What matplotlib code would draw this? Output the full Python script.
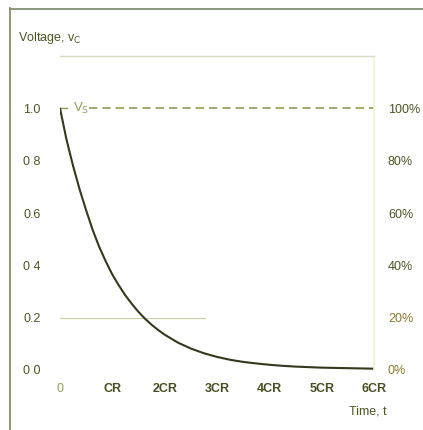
import matplotlib
matplotlib.use("Agg")
import matplotlib.pyplot as plt
from matplotlib.lines import Line2D

plt.rcParams['font.family'] = ['Liberation Sans', 'DejaVu Sans']

# Capacitor discharge: voltage v_C against time in multiples of CR
t_cr = [0, 0.125, 0.25, 0.375, 0.5, 0.625, 0.75, 0.875, 1.0, 1.125, 1.25,
        1.375, 1.5, 1.625, 1.75, 1.875, 2.0, 2.25, 2.5, 2.75, 3.0, 3.25, 3.5,
        3.75, 4.0, 4.25, 4.5, 4.75, 5.0, 5.25, 5.5, 5.75, 6.0]
v_c = [1.00, 0.88, 0.78, 0.69, 0.61, 0.535, 0.47, 0.415, 0.365, 0.323, 0.285,
       0.252, 0.222, 0.196, 0.173, 0.153, 0.135, 0.105, 0.082, 0.064, 0.050,
       0.039, 0.031, 0.025, 0.020, 0.016, 0.013, 0.011, 0.009, 0.008, 0.007,
       0.006, 0.005]

x_ticks = [0, 1, 2, 3, 4, 5, 6]
x_labels = ["0", "CR", "2CR", "3CR", "4CR", "5CR", "6CR"]
y_ticks = [0.0, 0.2, 0.4, 0.6, 0.8, 1.0]
y_labels = ["0 0", "0.2", "0 4", "0.6", "0 8", "1.0"]
pct_labels = ["0%", "20%", "40%", "60%", "80%", "100%"]
supply_level = 1.0
marker_level = 0.2

olive = "#4f5424"
olive_light = "#939a56"
fs = 9

W, H = 423, 430
fig = plt.figure(figsize=(W / 100, H / 100), dpi=100)
fig.patch.set_facecolor("white")

ax = fig.add_axes([60 / W, 1 - 370 / H, 314 / W, 314 / H])
ax.set_xlim(0, 6)
ax.set_ylim(0, 1.2)

for side in ("left", "bottom"):
    ax.spines[side].set_visible(False)
ax.spines["top"].set_color("#d9dcc2")
ax.spines["top"].set_linewidth(1.0)
ax.spines["right"].set_color("#f1f3cf")
ax.spines["right"].set_linewidth(1.2)

ax.set_xticks(x_ticks)
ax.set_xticklabels(x_labels)
ax.set_yticks(y_ticks)
ax.set_yticklabels(y_labels)
ax.tick_params(length=0, labelsize=fs, colors=olive, pad=0)
ax.tick_params(axis="x", pad=9)
ax.tick_params(axis="y", pad=14)
for lbl in ax.get_xticklabels():
    lbl.set_fontweight("bold")
    lbl.set_color("#4a4f22")
ax.get_xticklabels()[0].set_color("#9aa05c")
ax.get_xticklabels()[0].set_fontweight("normal")

# Percentage scale on the right
ax2 = ax.twinx()
ax2.set_ylim(0, 1.2)
ax2.set_yticks(y_ticks)
ax2.set_yticklabels(pct_labels)
ax2.tick_params(length=0, labelsize=fs, colors=olive, pad=10)
for s in ax2.spines.values():
    s.set_visible(False)
ax2.get_yticklabels()[0].set_color("#8a7a30")
ax2.get_yticklabels()[1].set_color("#8a7a30")

# Supply level V_S (dashed) with its label
ax.plot([0, 0.13], [supply_level, supply_level], color=olive_light, lw=1.0)
ax.plot([0.55, 6], [supply_level, supply_level], color=olive_light, lw=1.2,
        dashes=(5, 3))
ax.text(0.24, supply_level, r"V$_{\mathrm{S}}$", color=olive_light,
        fontsize=9.5, va="center", ha="left")

# Reference level at 0.2
ax.plot([0, 2.78], [marker_level, marker_level], color="#cfd2a8", lw=0.9)

# Discharge curve
ax.plot(t_cr, v_c, color="#34381c", lw=1.5, solid_capstyle="round",
        solid_joinstyle="round")

# Axis titles
fig.text(18 / W, 1 - 38 / H, r"Voltage, v$_{\mathrm{C}}$", color=olive,
         fontsize=fs, va="center", ha="left")
fig.text(387 / W, 1 - 411 / H, "Time, t", color=olive, fontsize=fs,
         va="center", ha="right")

# Outer frame (top and left edges)
fig.add_artist(Line2D([10 / W, 1.0], [1 - 8.5 / H, 1 - 8.5 / H],
                      transform=fig.transFigure, color="#7f8f72", lw=1.3))
fig.add_artist(Line2D([10 / W, 10 / W], [1 - 8 / H, 0.0],
                      transform=fig.transFigure, color="#8a8c72", lw=1.3))

fig.savefig("out.png", dpi=100, facecolor="white")
